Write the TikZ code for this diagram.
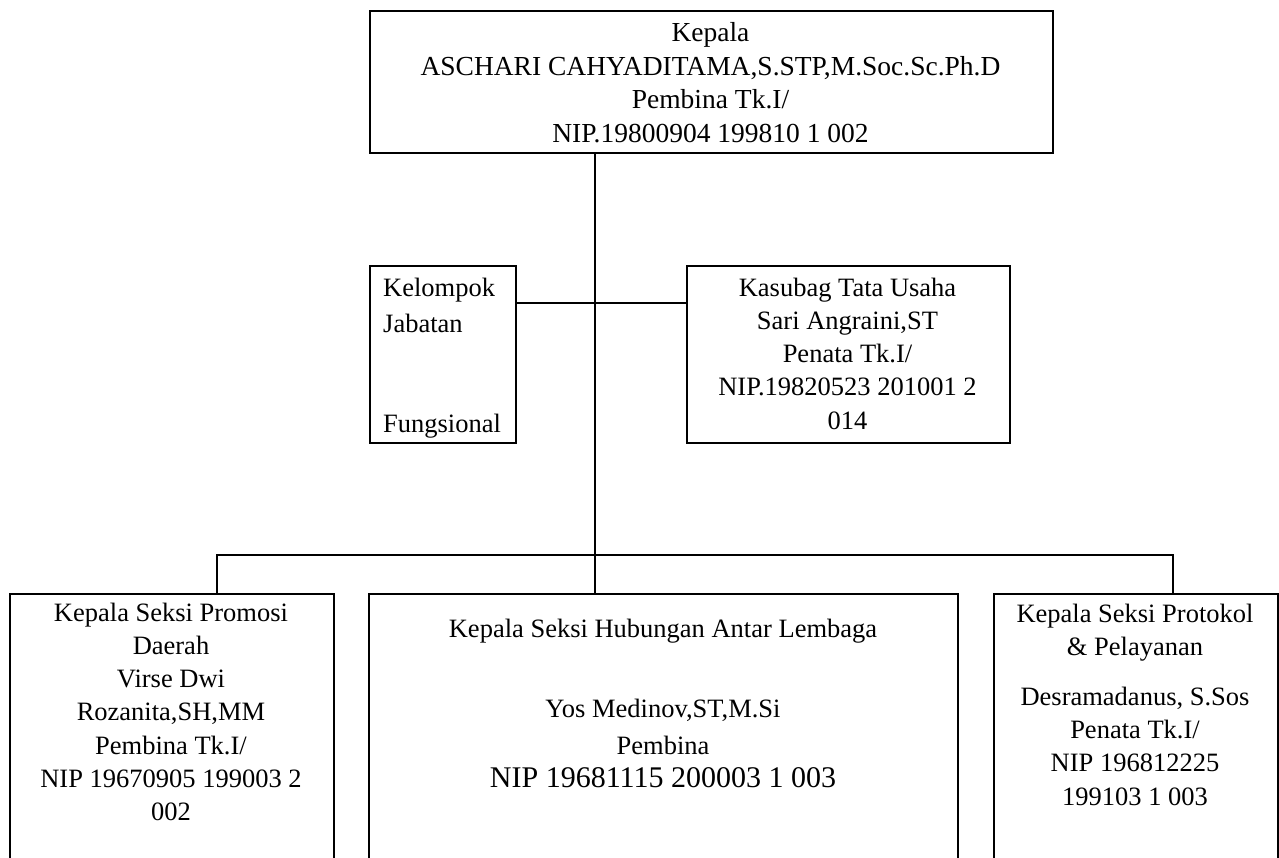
\documentclass[tikz,border=0pt]{standalone}
\usepackage{fontspec}
\setmainfont{Liberation Serif}
\begin{document}
\begin{tikzpicture}[x=1pt,y=-1pt,
  box/.style={draw,line width=1.8pt,rectangle,inner sep=0pt,anchor=north west},
  txt/.style={inner sep=0pt,anchor=north,align=center,font=\fontsize{26.5}{33.3}\selectfont},
  wire/.style={line width=1.8pt}]
\useasboundingbox (0,0) rectangle (1279,857);
\clip (0,0) rectangle (1279,857);
% boxes
\node[box,minimum width=683pt,minimum height=142pt] (kepala) at (369,10) {};
\node[box,minimum width=146pt,minimum height=177pt] (kelompok) at (369,265) {};
\node[box,minimum width=323pt,minimum height=177pt] (kasubag) at (686,265) {};
\node[box,minimum width=324pt,minimum height=300pt] (promosi) at (9,593) {};
\node[box,minimum width=589pt,minimum height=300pt] (hubungan) at (368,593) {};
\node[box,minimum width=284pt,minimum height=300pt] (protokol) at (993,593) {};
% texts
\node[txt,font=\fontsize{27.5}{33.5}\selectfont] (kepalaT) at (710.5,18) {\strut Kepala\\ASCHARI CAHYADITAMA,S.STP,M.Soc.Sc.Ph.D\\Pembina Tk.I/\\NIP.19800904 199810 1 002};
\node[txt,anchor=north west,align=left] (kelompokT) at (383,272.5) {\strut Kelompok\\[2.7pt]Jabatan\\[67pt]Fungsional};
\node[txt] (kasubagT) at (847.5,272.5) {\strut Kasubag Tata Usaha\\Sari Angraini,ST\\Penata Tk.I/\\NIP.19820523 201001 2\\014};
\node[txt] (promosiT) at (171,597.5) {\strut Kepala Seksi Promosi\\Daerah\\Virse Dwi\\Rozanita,SH,MM\\Pembina Tk.I/\\NIP 19670905 199003 2\\002};
\node[txt] (hubunganT) at (663,613.5) {\strut Kepala Seksi Hubungan Antar Lembaga\\[46.7pt]Yos Medinov,ST,M.Si\\[3.7pt]Pembina\\{\fontsize{30}{33.3}\selectfont NIP 19681115 200003 1 003}};
\node[txt] (protokolT) at (1135,598.5) {\strut Kepala Seksi Protokol\\\& Pelayanan\\[16.7pt]Desramadanus, S.Sos\\Penata Tk.I/\\NIP 196812225\\199103 1 003};
% connectors
\coordinate (spine) at (595,555);
\coordinate (side) at (595,303);
\coordinate (dropL) at (217,555);
\coordinate (dropR) at (1173,555);
\draw[wire] (kepala.south -| spine) -- (hubungan.north -| spine);
\draw[wire] (kelompok.east |- side) -- (kasubag.west |- side);
\draw[wire] (promosi.north -| dropL) -- (dropL) -- (dropR) -- (protokol.north -| dropR);
\end{tikzpicture}
\end{document}
